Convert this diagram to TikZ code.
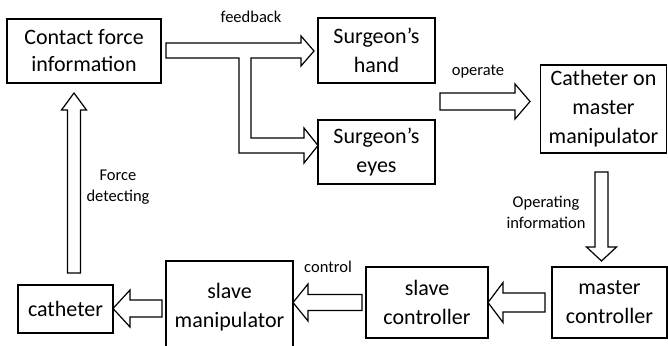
\documentclass[tikz,border=0pt]{standalone}
\usepackage{fontspec}
\setmainfont{Carlito}
\usetikzlibrary{calc}
\tikzset{
  box/.style={draw, line width=1.2pt, inner sep=0pt, align=center, font=\fontsize{22}{29}\selectfont},
  lbl/.style={inner sep=0pt, align=center, font=\fontsize{16.5}{21}\selectfont},
  bsw/.store in=\bsw, bhw/.store in=\bhw, bhl/.store in=\bhl,
  bsw=8pt, bhw=18pt, bhl=15pt,
  arr/.style={draw, line width=1.2pt, line join=miter},
  barrow/.style={arr, to path={
    let \p1=(\tikztostart), \p2=(\tikztotarget), \p3=($(\p2)!\bhl!(\p1)$) in
    ($(\p1)!\bsw!90:(\p2)$) -- ($(\p3)!\bsw!90:(\p2)$) -- ($(\p3)!\bhw!90:(\p2)$)
    -- (\p2) -- ($(\p3)!\bhw!-90:(\p2)$) -- ($(\p3)!\bsw!-90:(\p2)$)
    -- ($(\p1)!\bsw!-90:(\p2)$) -- cycle}}
}
\begin{document}
\begin{tikzpicture}[x=1pt,y=-1pt]
\clip (0,0) rectangle (668,345);
\fill[white] (0,0) rectangle (668,345);
% boxes
\node[box, font=\fontsize{22}{27}\selectfont, minimum width=154pt, minimum height=64pt] (cf) at (84,51) {Contact force\\information};
\node[box, minimum width=117pt, minimum height=65pt] (sh) at (376.5,50.5) {Surgeon’s\\hand};
\node[box, minimum width=117pt, minimum height=64pt] (se) at (376.5,152) {Surgeon’s\\eyes};
\node[box, minimum width=126pt, minimum height=88pt] (cm) at (603.5,109) {Catheter on\\master\\manipulator};
\node[box, minimum width=115pt, minimum height=71pt] (mc) at (609.5,302.5) {master\\controller};
\node[box, minimum width=122pt, minimum height=71pt] (sc) at (427,302.5) {slave\\controller};
\node[box, minimum width=127pt, minimum height=92pt] (sm) at (229.5,307) {slave\\manipulator};
\node[box, minimum width=95pt, minimum height=48pt] (ca) at (65.5,309) {catheter};
% labels
\node[lbl] (lfb) at (251,17) {feedback};
\node[lbl] (lop) at (478,72) {operate};
\node[lbl] (lfd) at (118,187.5) {Force\\detecting};
\node[lbl] (loi) at (546,212.5) {Operating\\information};
\node[lbl] (lct) at (328,267) {control};
% feedback fork arrow
\draw[arr] (166,43) -- (301,43) -- (301,36) -- (314,51) -- (301,66) -- (301,58)
  -- (251,58) -- (251,138) -- (304,138) -- (304,128) -- (318,145.5) -- (304,163)
  -- (304,153) -- (239,153) -- (239,58) -- (166,58) -- cycle;
% straight block arrows
\coordinate (opS) at (440,101.5); \coordinate (opE) at (530,101.5);
\draw[barrow, bsw=8.5pt, bhw=17.5pt, bhl=15pt] (opS) to (opE);
\coordinate (oiS) at (601.5,172); \coordinate (oiE) at (601.5,261);
\draw[barrow, bsw=6.5pt, bhw=15pt, bhl=14pt] (oiS) to (oiE);
\coordinate (msS) at (545,302.5); \coordinate (msE) at (488,302.5);
\draw[barrow, bsw=9.5pt, bhw=20pt, bhl=15pt] (msS) to (msE);
\coordinate (ctS) at (362,302.5); \coordinate (ctE) at (293,302.5);
\draw[barrow, bsw=8pt, bhw=18.5pt, bhl=15pt] (ctS) to (ctE);
\coordinate (scS) at (162,308.5); \coordinate (scE) at (113,308.5);
\draw[barrow, bsw=8.5pt, bhw=18.5pt, bhl=17pt] (scS) to (scE);
\coordinate (fdS) at (74,273); \coordinate (fdE) at (74,93);
\draw[barrow, bsw=6.5pt, bhw=12.5pt, bhl=17pt] (fdS) to (fdE);
\end{tikzpicture}
\end{document}
